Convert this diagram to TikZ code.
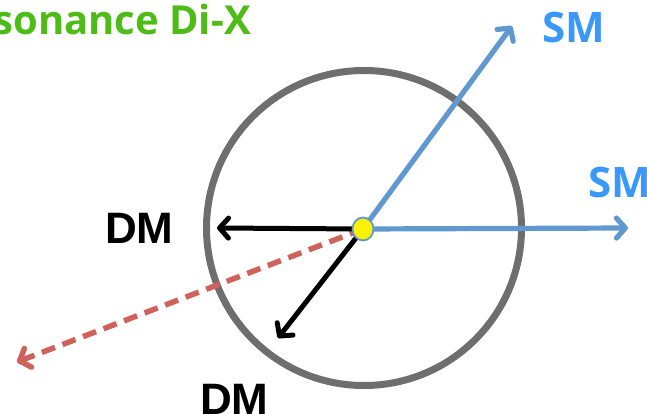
\documentclass[tikz,border=0pt]{standalone}
\usepackage{fontspec}
\setmainfont{Open Sans}
\newfontfamily\dmfont{Liberation Sans}
\usetikzlibrary{arrows.meta,shapes.geometric}
\definecolor{smblue}{RGB}{96,152,208}
\definecolor{smtext}{RGB}{58,152,250}
\definecolor{titlegreen}{RGB}{78,188,22}
\definecolor{dmred}{RGB}{208,98,92}
\definecolor{ringgray}{RGB}{110,110,110}
\tikzset{
  tipbarb/.style={-{Straight Barb[length=9pt,width=20pt,round]}},
  smarrow/.style={tipbarb, draw=smblue, line width=5.2pt, line cap=round},
  dmarrow/.style={tipbarb, draw=black, line width=5pt, line cap=round},
  redarrow/.style={tipbarb, draw=dmred, line width=5.5pt, dash pattern=on 14pt off 8pt},
  smlabel/.style={font=\bfseries\fontsize{42}{42}\selectfont, text=smtext, inner sep=0pt},
  dmlabel/.style={font=\dmfont\bfseries\fontsize{44}{44}\selectfont, text=black, inner sep=0pt},
  titlelabel/.style={font=\bfseries\fontsize{40}{40}\selectfont, text=titlegreen, inner sep=0pt},
  ring/.style={draw=ringgray, line width=7pt},
  vertex/.style={ellipse, fill=yellow, draw=smblue, line width=1.8pt, minimum width=21pt, minimum height=23pt, inner sep=0pt}
}
\begin{document}
\begin{tikzpicture}[x=1pt,y=-1pt]
\useasboundingbox (0,0) rectangle (647,414);
\node[titlelabel, anchor=base east] (title) at (251,35) {Resonance Di-X};
\node[ring, circle, minimum size=315pt, inner sep=0pt] (ringc) at (364,228) {};
\coordinate (c) at (363,229);
\coordinate (smA) at (512,26);
\coordinate (smB) at (628,228);
\coordinate (dmA) at (217,228);
\coordinate (dmB) at (278,338);
\coordinate (red) at (17,362);
\draw[redarrow] (c) -- (red);
\draw[dmarrow] (c) -- (dmA);
\draw[dmarrow] (c) -- (dmB);
\draw[smarrow] (c) -- (smA);
\draw[smarrow] (c) -- (smB);
\node[vertex] (dot) at (c) {};
\node[smlabel, anchor=base west] (sm1) at (542,43) {SM};
\node[smlabel, anchor=base west] (sm2) at (588,197) {SM};
\node[dmlabel, anchor=base west] (dm1) at (105,243) {DM};
\node[dmlabel, anchor=base west] (dm2) at (200,414) {DM};
\end{tikzpicture}
\end{document}
